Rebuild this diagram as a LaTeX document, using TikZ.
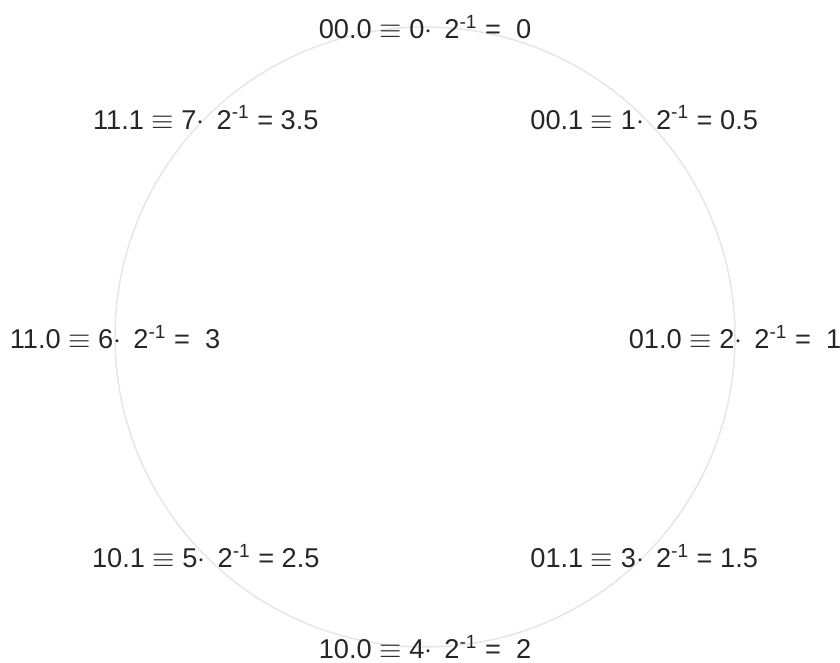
\documentclass[tikz,border=0pt]{standalone}
\usepackage{fontspec}
\setmainfont{Liberation Sans}
\usepackage{amsmath,amssymb}
\usetikzlibrary{positioning}
\definecolor{ringgray}{HTML}{E6E6E6}
\definecolor{labelgray}{HTML}{262626}

\begin{document}
\begin{tikzpicture}[x=0.5pt, y=0.5pt]
\tikzstyle{every node}=[font=\fontsize{13.6}{16}\selectfont, text=labelgray, inner sep=0pt, yshift=-3.5pt]
\tikzstyle{ring}=[draw=ringgray, line width=0.75pt]
   \useasboundingbox (0,0) rectangle (840,663);
   \coordinate (c) at (425,333);
   \draw[ring] (c) circle[radius=155pt];
   \node(s0) at (425,643){00.0 $\equiv$ 0$\cdot$\, 2\textsuperscript{-1} = \ 0};
   \node(s1) at (644.2,552.2){00.1 $\equiv$ 1$\cdot$\, 2\textsuperscript{-1} = 0.5};
   \node(s2) at (735,333){01.0 $\equiv$ 2$\cdot$\, 2\textsuperscript{-1} = \ 1};
   \node(s3) at (644.2,113.8){01.1 $\equiv$ 3$\cdot$\, 2\textsuperscript{-1} = 1.5};
   \node(s4) at (425,23){10.0 $\equiv$ 4$\cdot$\, 2\textsuperscript{-1} = \ 2};
   \node(s5) at (205.8,113.8){10.1 $\equiv$ 5$\cdot$\, 2\textsuperscript{-1} = 2.5};
   \node(s6) at (115,333){11.0 $\equiv$ 6$\cdot$\, 2\textsuperscript{-1} = \ 3};
   \node(s7) at (205.8,552.2){11.1 $\equiv$ 7$\cdot$\, 2\textsuperscript{-1} = 3.5};

 \end{tikzpicture}
\end{document}
